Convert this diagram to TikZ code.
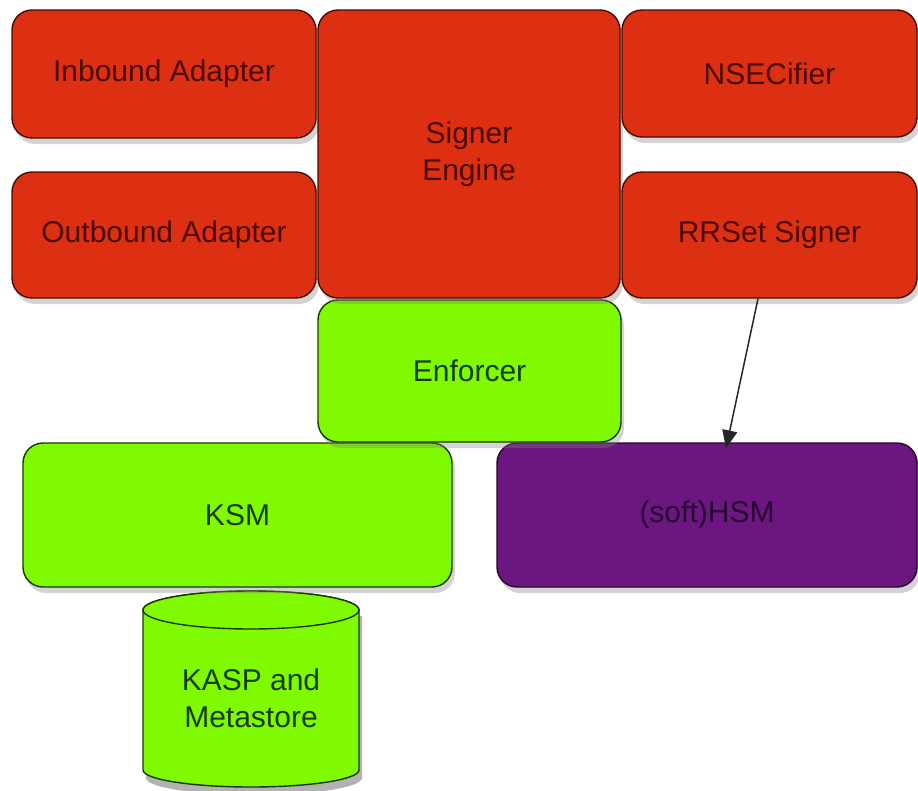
\documentclass[tikz,border=0pt]{standalone}
\usepackage{fontspec}
\setmainfont{Liberation Sans}
\usetikzlibrary{shadows,arrows.meta}
\definecolor{redfill}{RGB}{221,48,18}
\definecolor{redline}{RGB}{70,10,0}
\definecolor{redtext}{RGB}{75,10,2}
\definecolor{greenfill}{RGB}{127,250,0}
\definecolor{greenline}{RGB}{25,55,0}
\definecolor{greentext}{RGB}{22,60,0}
\definecolor{purplefill}{RGB}{108,22,128}
\definecolor{purpleline}{RGB}{35,5,40}
\definecolor{purpletext}{RGB}{38,6,48}
\tikzset{
  box/.style={rectangle, rounded corners=20pt, line width=1.4pt, inner sep=0pt,
    align=center, font=\fontsize{30}{37}\selectfont,
    drop shadow={shadow xshift=3pt, shadow yshift=-6pt, opacity=0.35}},
  redbox/.style={box, fill=redfill, draw=redline, text=redtext},
  greenbox/.style={box, fill=greenfill, draw=greenline, text=greentext},
  purplebox/.style={box, fill=purplefill, draw=purpleline, text=purpletext},
  conn/.style={-{Triangle[length=18pt,width=15pt]}, line width=1.5pt, draw=black!85}
}
\begin{document}
\begin{tikzpicture}[x=1pt,y=-1pt]
\useasboundingbox (0,0) rectangle (918,790);
% cylinder (drawn directly)
\fill[black,opacity=0.3] (146,616) -- (146,778) arc[start angle=180,end angle=0,x radius=108,y radius=17] -- (362,616) -- cycle;
\filldraw[fill=greenfill, draw=greenline, line width=1.4pt]
  (143,610) -- (143,770) arc[start angle=180,end angle=0,x radius=108,y radius=17]
  -- (359,610) arc[start angle=0,end angle=-180,x radius=108,y radius=19] -- cycle;
\filldraw[fill=greenfill, draw=greenline, line width=1.4pt] (251,610) ellipse[x radius=108,y radius=19];
\node[align=center, text=greentext, font=\fontsize{30}{37}\selectfont] (kasp) at (251,698) {KASP and\\Metastore};
% boxes
\node[greenbox, minimum width=429pt, minimum height=144pt] (ksm) at (237.5,515) {KSM};
\node[purplebox, minimum width=420pt, minimum height=144pt] (hsm) at (707,515) {(soft)HSM};
\node[greenbox, minimum width=303pt, minimum height=142pt] (enf) at (469.5,371) {Enforcer};
\node[redbox, minimum width=304pt, minimum height=128pt] (inb) at (164,74) {Inbound Adapter};
\node[redbox, minimum width=304pt, minimum height=126pt] (outb) at (164,235) {Outbound Adapter};
\node[redbox, minimum width=302pt, minimum height=288pt] (sig) at (469,154) {Signer\\Engine};
\node[redbox, minimum width=295pt, minimum height=127pt] (nsec) at (769.5,73.5) {NSECifier};
\node[redbox, minimum width=295pt, minimum height=126pt] (rrs) at (769.5,235) {RRSet Signer};
% connector
\coordinate (a1) at ([xshift=-11.5pt]rrs.south);
\coordinate (a2) at ([xshift=19pt,yshift=-6pt]hsm.north);
\draw[conn] (a1) -- (a2);
\end{tikzpicture}
\end{document}
